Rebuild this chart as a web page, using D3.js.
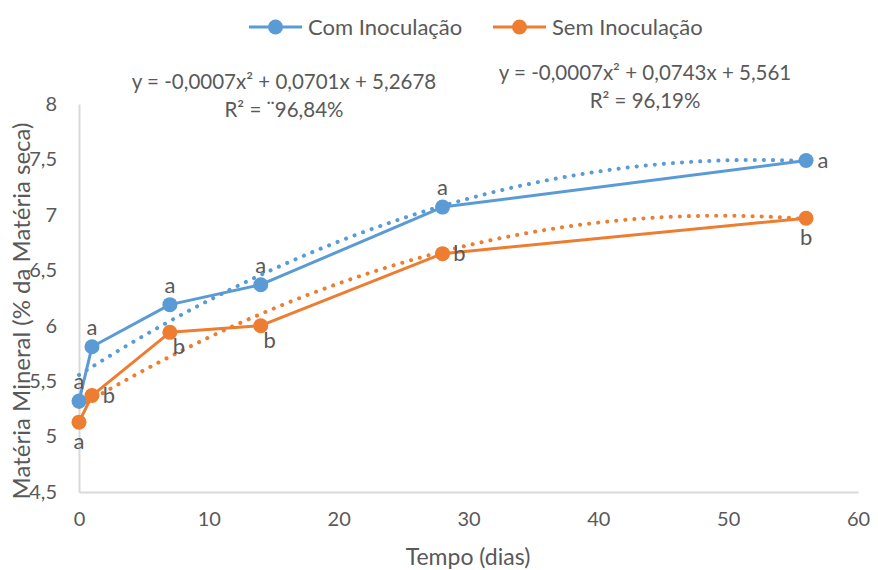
<!DOCTYPE html>
<html>
<head>
<meta charset="utf-8">
<script src="https://cdn.jsdelivr.net/npm/d3@7"></script>
<style>
  body { margin: 0; background: #fff; }
  text { font-family: Lato, "Open Sans", sans-serif; fill: #595959; }
</style>
</head>
<body>
<svg id="chart" width="878" height="570"></svg>
<script>
// ---- data ----
const days = [0, 1, 7, 14, 28, 56]
const comInoculacao = [5.32, 5.81, 6.19, 6.37, 7.07, 7.49]
const semInoculacao = [5.13, 5.37, 5.94, 6.00, 6.65, 6.97]
const comLetters = ['a', 'a', 'a', 'a', 'a', 'a']
const semLetters = ['a', 'b', 'b', 'b', 'b', 'b']
const xTicks = [0, 10, 20, 30, 40, 50, 60]
const yTicks = [4.5, 5, 5.5, 6, 6.5, 7, 7.5, 8]
const seriesNames = ['Com Inoculação', 'Sem Inoculação']
const equations = [
	['y = -0,0007x² + 0,0701x + 5,2678', 'R² = ¨96,84%'],
	['y = -0,0007x² + 0,0743x + 5,561', 'R² = 96,19%']
]

const BLUE = '#5b9bd5'
const ORANGE = '#ed7d31'

const svg = d3.select('#chart')

const x = d3.scaleLinear().domain([0, 60]).range([79, 858])
const y = d3.scaleLinear().domain([4.5, 8]).range([492, 104])

/*
 * AXES
 */
const xAxis = svg.append('g')
	.attr('transform', `translate(0, ${y(4.5)})`)
	.call(d3.axisBottom(x).tickValues(xTicks).tickSize(0).tickPadding(20).tickFormat(d3.format('d')))
xAxis.select('.domain').attr('stroke', '#d9d9d9').attr('stroke-width', 2)
xAxis.selectAll('text').attr('font-size', 20).attr('fill', '#595959').style('font-family', 'Lato, sans-serif')

const fmtY = d => String(d).replace('.', ',')
const yAxis = svg.append('g')
	.attr('transform', `translate(${x(0)}, 0)`)
	.call(d3.axisLeft(y).tickValues(yTicks).tickSize(0).tickPadding(22).tickFormat(fmtY))
yAxis.select('.domain').attr('stroke', '#d9d9d9').attr('stroke-width', 2)
yAxis.selectAll('text').attr('font-size', 20).attr('fill', '#595959').style('font-family', 'Lato, sans-serif')

svg.append('text')
	.attr('x', 468)
	.attr('y', 565)
	.attr('text-anchor', 'middle')
	.attr('font-size', 23)
	.text('Tempo (dias)')

svg.append('text')
	.attr('transform', 'translate(30, 311) rotate(-90)')
	.attr('text-anchor', 'middle')
	.attr('font-size', 24)
	.text('Matéria Mineral (% da Matéria seca)')

/*
 * TRENDLINES (least-squares quadratic fit of each series)
 */
function polyfit2(xs, ys) {
	// normal equations for y = a x² + b x + c
	const s = k => d3.sum(xs, v => Math.pow(v, k))
	const t = k => d3.sum(xs, (v, i) => Math.pow(v, k) * ys[i])
	const M = [
		[s(4), s(3), s(2), t(2)],
		[s(3), s(2), s(1), t(1)],
		[s(2), s(1), xs.length, t(0)]
	]
	for (let i = 0; i < 3; i++) {
		for (let j = i + 1; j < 3; j++) {
			const f = M[j][i] / M[i][i]
			for (let k = i; k < 4; k++) M[j][k] -= f * M[i][k]
		}
	}
	const r = [0, 0, 0]
	for (let i = 2; i >= 0; i--) {
		let v = M[i][3]
		for (let k = i + 1; k < 3; k++) v -= M[i][k] * r[k]
		r[i] = v / M[i][i]
	}
	return r
}
function drawTrend(values, color) {
	const coef = polyfit2(days, values)
	const xs = d3.range(0, 56.01, 0.5)
	const line = d3.line()
		.x(d => x(d))
		.y(d => y(coef[0] * d * d + coef[1] * d + coef[2]))
	svg.append('path')
		.attr('d', line(xs))
		.attr('fill', 'none')
		.attr('stroke', color)
		.attr('stroke-width', 4)
		.attr('stroke-linecap', 'round')
		.attr('stroke-dasharray', '0.1 9')
}
drawTrend(comInoculacao, BLUE)
drawTrend(semInoculacao, ORANGE)

/*
 * SERIES
 */
function drawSeries(values, color) {
	const line = d3.line()
		.x((d, i) => x(days[i]))
		.y(d => y(d))
	svg.append('path')
		.attr('d', line(values))
		.attr('fill', 'none')
		.attr('stroke', color)
		.attr('stroke-width', 3)
		.attr('stroke-linejoin', 'round')
	svg.append('g').selectAll('circle')
		.data(values)
		.join('circle')
		.attr('cx', (d, i) => x(days[i]))
		.attr('cy', d => y(d))
		.attr('r', 7.5)
		.attr('fill', color)
}
drawSeries(comInoculacao, BLUE)
drawSeries(semInoculacao, ORANGE)

// significance letters, placement relative to marker
const comPlace = ['top', 'top', 'top', 'top', 'top', 'right']
const semPlace = ['bottom', 'right', 'bottomRight', 'bottomRight', 'right', 'bottom']
const offsets = {
	top: [0, -12],
	right: [17, 7],
	bottom: [0, 27],
	bottomRight: [9, 22]
}
function drawLetters(values, letters, places) {
	svg.append('g').selectAll('text')
		.data(values)
		.join('text')
		.attr('x', (d, i) => x(days[i]) + offsets[places[i]][0])
		.attr('y', (d, i) => y(d) + offsets[places[i]][1])
		.attr('text-anchor', 'middle')
		.attr('font-size', 22)
		.attr('fill', '#404040')
		.text((d, i) => letters[i])
}
drawLetters(comInoculacao, comLetters, comPlace)
drawLetters(semInoculacao, semLetters, semPlace)

/*
 * EQUATIONS
 */
const eqPos = [[284, 89], [645, 80]]
equations.forEach((lines, k) => {
	lines.forEach((t, j) => {
		svg.append('text')
			.attr('x', eqPos[k][0])
			.attr('y', eqPos[k][1] + j * 28)
			.attr('text-anchor', 'middle')
			.attr('font-size', 20.5)
			.text(t)
	})
})

/*
 * LEGEND
 */
const legendItems = [
	{ name: seriesNames[0], color: BLUE, x: 249 },
	{ name: seriesNames[1], color: ORANGE, x: 493 }
]
legendItems.forEach(item => {
	const g = svg.append('g').attr('transform', `translate(${item.x}, 27)`)
	g.append('line')
		.attr('x1', 0).attr('x2', 53)
		.attr('stroke', item.color)
		.attr('stroke-width', 3)
	g.append('circle')
		.attr('cx', 26.5)
		.attr('r', 7.5)
		.attr('fill', item.color)
	g.append('text')
		.attr('x', 59)
		.attr('y', 7.5)
		.attr('font-size', 22)
		.text(item.name)
})
</script>
</body>
</html>
